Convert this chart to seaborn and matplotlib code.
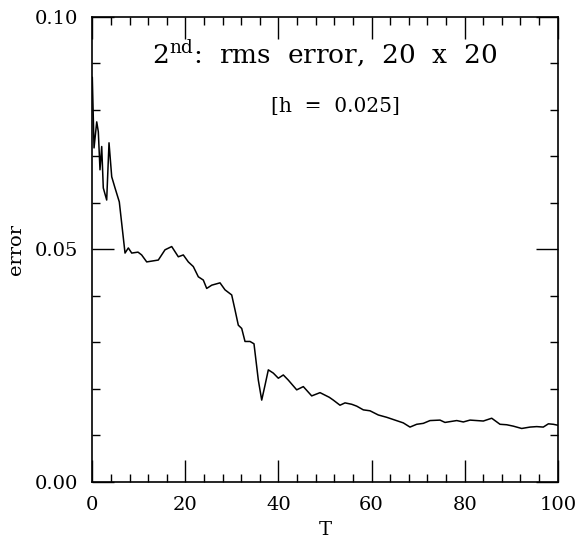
import matplotlib
matplotlib.use("Agg")
import matplotlib.pyplot as plt
import seaborn as sns
import pandas as pd
from matplotlib.ticker import MultipleLocator, FormatStrFormatter

T = [0.0, 0.37, 0.95, 1.29, 1.65, 2.02, 2.36, 3.09, 3.59, 4.17, 4.88, 5.80,
     7.03, 7.74, 8.47, 9.82, 10.6, 11.69, 14.18, 15.62, 17.06, 18.48,
     19.55, 20.63, 21.70, 22.78, 23.85, 24.58, 25.66, 27.44, 28.51, 29.95,
     30.66, 31.37, 32.10, 32.81, 33.89, 34.74, 35.67, 36.40, 37.11, 37.82,
     38.89, 39.97, 41.04, 42.11, 43.92, 45.34, 47.14, 48.93, 50.92,
     51.78, 53.22, 54.30, 55.74, 56.81, 58.23, 59.67, 61.45, 63.26, 65.04,
     66.82, 68.26, 69.70, 71.12, 72.56, 74.71, 75.78, 78.30, 79.72, 81.16,
     84.01, 85.82, 87.60, 89.04, 90.46, 92.26, 94.05, 95.49, 96.90, 98.0,
     99.05, 100.0]
error = [0.0870, 0.0718, 0.0774, 0.0753, 0.0671, 0.0721, 0.0632, 0.0606, 0.0729,
         0.0656, 0.0632, 0.0602, 0.0492, 0.0503, 0.0492, 0.0494, 0.0488, 0.0473,
         0.0477, 0.0499, 0.0506, 0.0484,
         0.0488, 0.0473, 0.0463, 0.0441, 0.0434, 0.0416, 0.0423, 0.0428, 0.0413,
         0.0402, 0.0370, 0.0337, 0.0330, 0.0302, 0.0302, 0.0297, 0.0219, 0.0176,
         0.0208, 0.0241, 0.0234, 0.0223, 0.0230, 0.0219, 0.0198, 0.0205, 0.0185,
         0.0192, 0.0182,
         0.0176, 0.0165, 0.0170, 0.0167, 0.0163, 0.0155, 0.0153, 0.0144, 0.0139,
         0.0133, 0.0127, 0.0118, 0.0124, 0.0126, 0.0132, 0.0133, 0.0128, 0.0132,
         0.0129, 0.0133, 0.0131, 0.0137, 0.0124, 0.0123, 0.0120, 0.0115, 0.0118,
         0.0119, 0.0118, 0.0125, 0.0124, 0.0122]

x_ticks = [0, 20, 40, 60, 80, 100]
y_ticks = [0.00, 0.05, 0.10]

sns.set_style("ticks")
plt.rcParams['font.family'] = ['DejaVu Serif']
plt.rcParams['mathtext.fontset'] = 'dejavuserif'
plt.rcParams['text.color'] = 'black'
plt.rcParams['axes.labelcolor'] = 'black'
plt.rcParams['xtick.color'] = 'black'
plt.rcParams['ytick.color'] = 'black'

df = pd.DataFrame({"T": T, "error": error})

fig = plt.figure(figsize=(5.78, 5.41), dpi=100)
ax = fig.add_axes([0.1597, 0.1091, 0.8052, 0.86])
sns.lineplot(data=df, x="T", y="error", ax=ax, color="black", linewidth=1.1,
             estimator=None, sort=False)

ax.set_xlim(0, 100)
ax.set_ylim(0, 0.10)
ax.set_xticks(x_ticks)
ax.set_yticks(y_ticks)
ax.xaxis.set_minor_locator(MultipleLocator(4))
ax.yaxis.set_minor_locator(MultipleLocator(0.01))
ax.yaxis.set_major_formatter(FormatStrFormatter('%.2f'))
ax.tick_params(which='both', direction='in', top=True, right=True,
               width=1.0, color='black')
ax.tick_params(which='major', length=15.5, labelsize=14, pad=10)
ax.tick_params(which='minor', length=5.5)
for s in ax.spines.values():
    s.set_linewidth(1.2)
    s.set_color('black')

ax.set_xlabel("T", fontsize=14, labelpad=5)
ax.set_ylabel("error", fontsize=14, labelpad=7)

ax.text(50.0, 0.0920, r"2$^{\rm nd}$:  rms  error,  20  x  20", ha='center',
        va='center', fontsize=19)
ax.text(52.2, 0.0807, "[h  =  0.025]", ha='center', va='center', fontsize=14.5)

fig.savefig("out.png", dpi=100)
